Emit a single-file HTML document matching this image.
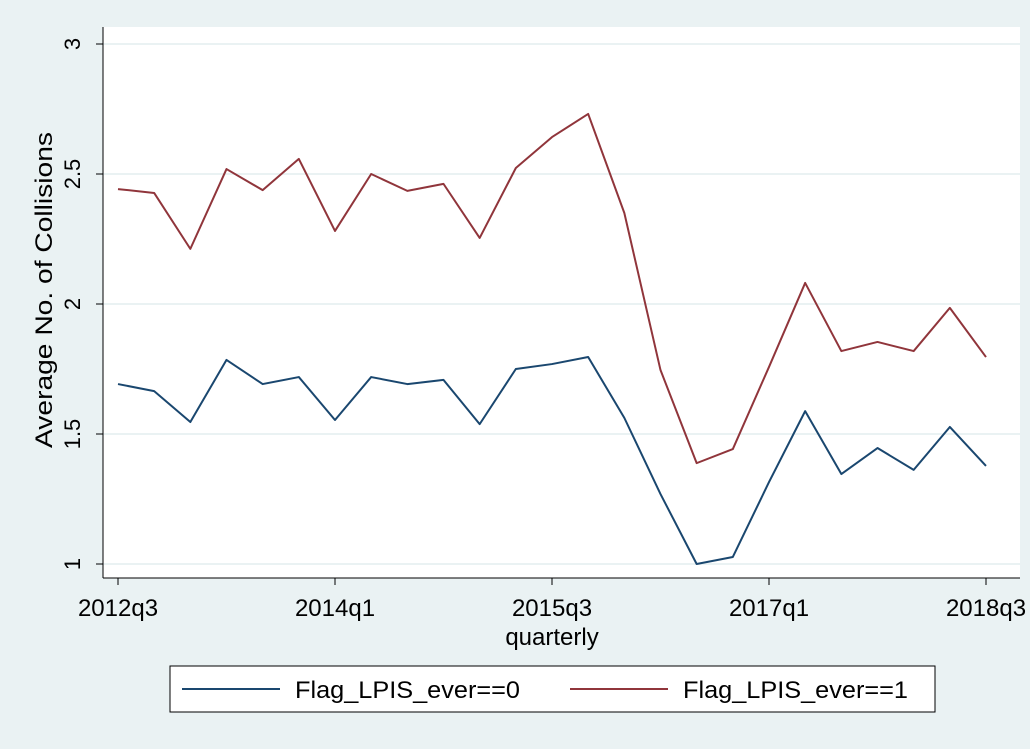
<!DOCTYPE html>
<html><head><meta charset="utf-8"><style>
body{margin:0;background:#eaf2f3;}
svg{display:block;font-family:"Liberation Sans",Arial,sans-serif;}
</style></head><body>
<svg id="chart" width="1030" height="749">
<rect x="0" y="0" width="1030" height="749" fill="#eaf2f3"/>
<rect x="103" y="27" width="917" height="551" fill="#fff"/>
<g id="grid"></g><g id="axes"></g><g id="series"></g>
<text x="0" y="0" transform="translate(52,290) rotate(-90)" text-anchor="middle" font-size="24" fill="#000" textLength="316" lengthAdjust="spacingAndGlyphs">Average No. of Collisions</text>
<text x="552" y="645" text-anchor="middle" font-size="24" fill="#000">quarterly</text>
<g>
<rect x="170" y="666" width="765" height="46" fill="#fff" stroke="#000" stroke-width="1"/>
<g><line x1="182" y1="689" x2="280" y2="689" stroke="#1a476f" stroke-width="2"/><text x="295" y="698" font-size="24" textLength="225" lengthAdjust="spacingAndGlyphs">Flag_LPIS_ever==0</text></g>
<g><line x1="570" y1="689" x2="668" y2="689" stroke="#90353b" stroke-width="2"/><text x="683" y="698" font-size="24" textLength="225" lengthAdjust="spacingAndGlyphs">Flag_LPIS_ever==1</text></g>
</g>
</svg>
<script>
const quarters=["2012q3","2012q4","2013q1","2013q2","2013q3","2013q4","2014q1","2014q2","2014q3","2014q4","2015q1","2015q2","2015q3","2015q4","2016q1","2016q2","2016q3","2016q4","2017q1","2017q2","2017q3","2017q4","2018q1","2018q2","2018q3"];
const flag0=[1.692,1.665,1.546,1.785,1.692,1.719,1.554,1.719,1.692,1.708,1.538,1.75,1.769,1.796,1.562,1.269,1.0,1.027,1.315,1.588,1.346,1.446,1.362,1.527,1.377];
const flag1=[2.442,2.427,2.212,2.519,2.438,2.558,2.281,2.5,2.435,2.462,2.254,2.523,2.642,2.731,2.35,1.746,1.388,1.442,1.758,2.081,1.819,1.854,1.819,1.985,1.796];
const yTicks=[1,1.5,2,2.5,3];
const yTickLabels=["1","1.5","2","2.5","3"];
const xTickIdx=[0,6,12,18,24];
const NS="http://www.w3.org/2000/svg";
const x=i=>118+i*(986-118)/(quarters.length-1);
const y=v=>564-(v-1)*260;
function mk(t,a,p){const e=document.createElementNS(NS,t);for(const k in a)e.setAttribute(k,a[k]);p.appendChild(e);return e;}
const grid=document.getElementById('grid'),axes=document.getElementById('axes'),ser=document.getElementById('series');
mk('line',{x1:103,y1:27,x2:103,y2:578,stroke:'#000','stroke-width':1},axes);
mk('line',{x1:103,y1:578,x2:1020,y2:578,stroke:'#000','stroke-width':1},axes);
yTicks.forEach((v,k)=>{
 const g=mk('line',{x1:103,y1:y(v),x2:1020,y2:y(v),stroke:'#eaf2f3','stroke-width':2},grid);
 
 
 mk('line',{x1:96,y1:y(v),x2:103,y2:y(v),stroke:'#000'},axes);
 const t=mk('text',{transform:`translate(80,${y(v)}) rotate(-90)`,'text-anchor':'middle','font-size':22},axes);
 t.textContent=yTickLabels[k];
 
 
});
xTickIdx.forEach(i=>{
 mk('line',{x1:x(i),y1:578,x2:x(i),y2:585,stroke:'#000'},axes);
 const t=mk('text',{x:x(i),y:616,'text-anchor':'middle','font-size':24},axes);
 t.textContent=quarters[i];
 
 
});
function line(d,c,n){
 const p=mk('polyline',{points:d.map((v,i)=>x(i)+','+y(v)).join(' '),fill:'none',stroke:c,'stroke-width':2,'stroke-linejoin':'round'},ser);
 
 
}
line(flag0,'#1a476f','series-flag-0');
line(flag1,'#90353b','series-flag-1');
</script>
</body></html>
